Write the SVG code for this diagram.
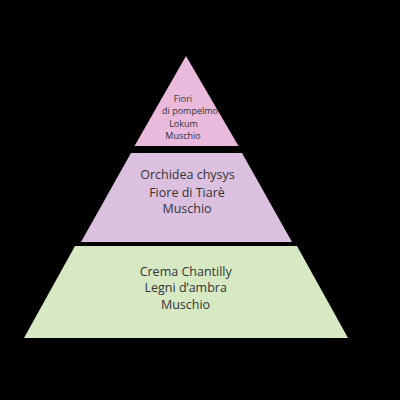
<svg xmlns="http://www.w3.org/2000/svg" width="400" height="400" viewBox="0 0 400 400">
  <style>
    .lbl { font-family: "Open Sans", "Liberation Sans", sans-serif; fill: #333333; text-anchor: middle; }
    .top { font-size: 9px; }
    .big { font-size: 12.5px; }
  </style>
  <rect x="0" y="0" width="400" height="400" fill="#000000"/>
  <g id="tier-top">
    <polygon points="186,56 238.5,146 134.5,146" fill="#E9BADB"/>
    <text class="lbl top" x="183" y="102">Fiori</text>
    <text class="lbl top" x="190" y="114">di pompelmo</text>
    <text class="lbl top" x="183.5" y="126.5">Lokum</text>
    <text class="lbl top" x="183" y="138.5">Muschio</text>
  </g>
  <g id="tier-middle">
    <polygon points="131,153 242,153 292,242 81,242" fill="#DCC0DF"/>
    <text class="lbl big" x="187.5" y="179">Orchidea chysys</text>
    <text class="lbl big" x="187" y="196.5">Fiore di Tiarè</text>
    <text class="lbl big" x="187" y="213">Muschio</text>
  </g>
  <g id="tier-bottom">
    <polygon points="75,246 297,246 348,338 24,338" fill="#D7E9C3"/>
    <text class="lbl big" x="185.7" y="275.5">Crema Chantilly</text>
    <text class="lbl big" x="185.7" y="292">Legni d’ambra</text>
    <text class="lbl big" x="185.5" y="308.5">Muschio</text>
  </g>
  <g id="connectors"/>
</svg>
